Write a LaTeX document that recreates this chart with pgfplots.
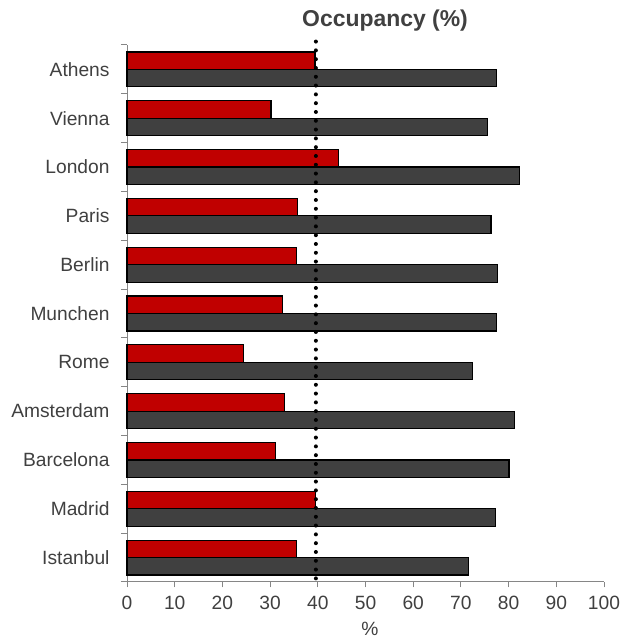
\documentclass[border=0pt]{standalone}
\usepackage{fontspec}
\setmainfont{Liberation Sans}
\usepackage{pgfplots}
\pgfplotsset{compat=1.18}

\definecolor{barred}{HTML}{C00000}
\definecolor{bargray}{HTML}{404040}
\definecolor{txtgray}{HTML}{404040}
\definecolor{axgray}{HTML}{868686}

\begin{document}
\begin{tikzpicture}
\path[use as bounding box] (0,0) rectangle (465pt,478.5pt);
\begin{axis}[
    at={(95.25pt,42pt)}, anchor=south west,
    scale only axis,
    width=357.75pt, height=402.75pt,
    xbar, bar width=13.1pt,
    clip=false,
    xmin=0, xmax=100,
    xtick={0,10,...,100},
    ymin=-0.5, ymax=10.5,
    ytick={0,...,10},
    yticklabels={Istanbul,Madrid,Barcelona,Amsterdam,Rome,Munchen,Berlin,Paris,London,Vienna,Athens},
    minor ytick={-0.5,0.5,...,10.5},
    axis x line*=bottom,
    axis y line*=left,
    axis line style={axgray, line width=0.75pt},
    tick align=outside,
    major tick length=4pt,
    minor tick length=4.5pt,
    ytick style={draw=axgray, line width=0.75pt},
    xtick style={draw=axgray, line width=0.75pt},
    every major y tick/.style={draw=none},
    /pgf/number format/assume math mode=true,
    tick label style={font=\fontsize{14.4}{17}\selectfont, text=txtgray},
    yticklabel style={xshift=-5.6pt},
    xticklabel style={yshift=-3pt},
    title={\bfseries Occupancy (\%)},
    title style={at={(0.541,1)}, anchor=base, yshift=7.5pt,
                 font=\fontsize{17.2}{20}\selectfont, text=txtgray},
    xlabel={\%},
    xlabel style={at={(0.509,0)}, anchor=base, yshift=-39.75pt,
                  font=\fontsize{14.4}{17}\selectfont, text=txtgray},
]
% 2nd series (red, upper bar)
\addplot[fill=barred, draw=black, line width=0.9pt, bar shift=6.55pt] coordinates {
    (35.6,0) (39.6,1) (31.1,2) (33.0,3) (24.4,4) (32.6,5)
    (35.5,6) (35.8,7) (44.4,8) (30.2,9) (39.4,10)
};
% 1st series (dark grey, lower bar)
\addplot[fill=bargray, draw=black, line width=0.9pt, bar shift=-6.55pt] coordinates {
    (71.6,0) (77.3,1) (80.1,2) (81.3,3) (72.4,4) (77.5,5)
    (77.6,6) (76.3,7) (82.2,8) (75.6,9) (77.5,10)
};
% reference line
\addplot[sharp plot, black, line width=3pt, line cap=round,
         dash pattern=on 0pt off 6.6pt, forget plot] coordinates {
    (39.6,10.57) (39.6,-0.45)
};
\end{axis}
\end{tikzpicture}
\end{document}
